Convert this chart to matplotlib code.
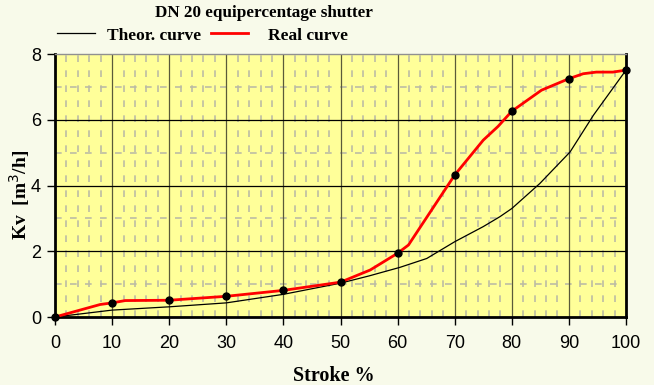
import matplotlib
matplotlib.use("Agg")
import matplotlib.pyplot as plt
from matplotlib.lines import Line2D
import numpy as np

# Data
real_x = [0, 7.9, 10, 12.3, 20, 30, 40, 50, 55.2, 60, 61.9, 70, 75, 77.6, 80, 85.2, 90, 92.5, 94.8, 97.7, 100]
real_y = [0, 0.38, 0.43, 0.50, 0.51, 0.63, 0.81, 1.06, 1.43, 1.94, 2.19, 4.32, 5.38, 5.80, 6.26, 6.90, 7.25, 7.40, 7.45, 7.45, 7.51]
marker_x = [0, 10, 20, 30, 40, 50, 60, 70, 80, 90, 100]
marker_y = [0, 0.43, 0.51, 0.63, 0.81, 1.06, 1.94, 4.32, 6.26, 7.25, 7.51]
theo_x = [0, 10, 20, 30, 40, 50, 55, 60.4, 65.1, 70, 75, 77.9, 80, 84.9, 90.2, 94.3, 100]
theo_y = [0, 0.21, 0.31, 0.43, 0.69, 1.03, 1.25, 1.51, 1.78, 2.29, 2.75, 3.05, 3.30, 4.06, 5.02, 6.14, 7.51]
xticks = [0, 10, 20, 30, 40, 50, 60, 70, 80, 90, 100]
yticks = [0, 2, 4, 6, 8]

W, H = 654, 385
fig = plt.figure(figsize=(6.54, 3.85), dpi=100, facecolor="#F8FAEA")
ax = fig.add_axes([0.0841, 0.1766, 0.8731, 0.6831])
ax.set_facecolor("#FFFF99")

ax.set_xlim(0, 100)
ax.set_ylim(0, 8)
ax.set_xticks(xticks)
ax.set_yticks(yticks)

ax.grid(False)
for xv in xticks[1:-1]:
    ax.axvline(xv, color="#5a5a3a", lw=0.9, zorder=1)
for yv in yticks[1:-1]:
    ax.axhline(yv, color="black", lw=0.9, zorder=1)
for xv in np.arange(2, 100, 2):
    if xv % 10 != 0:
        ax.axvline(xv, color="#bcbca4", lw=1.2, ls=(0, (4, 5)), zorder=0.5)
for yv in [1, 3, 5, 7]:
    ax.axhline(yv, color="#bcbca4", lw=1.2, ls=(0, (4, 5)), zorder=0.5)

ax.plot(theo_x, theo_y, color="black", lw=0.9, zorder=3)
ax.plot(real_x, real_y, color="#FF0000", lw=2, zorder=4)
ax.plot(marker_x, marker_y, "o", color="black", ms=5, zorder=5, clip_on=False)

for s in ["left", "bottom", "right"]:
    ax.spines[s].set_linewidth(2)
    ax.spines[s].set_color("black")
ax.spines["top"].set_linewidth(1)
ax.spines["top"].set_color("#909090")

ax.tick_params(axis="x", which="major", direction="out", length=6, width=1, labelsize=13, pad=7)
ax.tick_params(axis="y", which="major", direction="out", length=6, width=1, labelsize=13, pad=4)
for lab in ax.get_xticklabels() + ax.get_yticklabels():
    lab.set_family("Liberation Sans")

fig.text(334 / W, 1 - 376 / H, "Stroke %", ha="center", va="center",
         family="Liberation Serif", fontweight="bold", fontsize=14.5)
fig.text(20 / W, 1 - 195 / H, "Kv  [m$^3$/h]", ha="center", va="center", rotation=90,
         family="Liberation Serif", fontweight="bold", fontsize=14)

fig.text(264 / W, 1 - 13 / H, "DN 20 equipercentage shutter", ha="center", va="center",
         family="Liberation Serif", fontweight="bold", fontsize=12.3)

# legend (manual)
ly = 1 - 33 / H
fig.add_artist(Line2D([57 / W, 95 / W], [ly, ly], color="black", lw=0.9))
fig.text(107 / W, 1 - 36 / H, "Theor. curve", ha="left", va="center",
         family="Liberation Serif", fontweight="bold", fontsize=12.5)
fig.add_artist(Line2D([211 / W, 248 / W], [ly, ly], color="#FF0000", lw=2))
fig.text(268 / W, 1 - 36 / H, "Real curve", ha="left", va="center",
         family="Liberation Serif", fontweight="bold", fontsize=12.5)

fig.savefig("out.png", dpi=100, facecolor=fig.get_facecolor())
